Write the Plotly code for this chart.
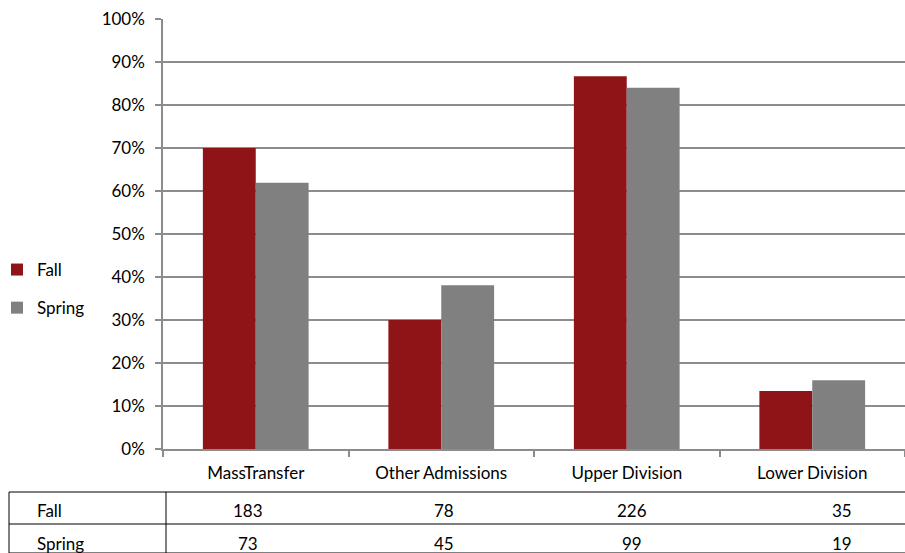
import plotly.graph_objects as go

categories = ["MassTransfer", "Other Admissions", "Upper Division", "Lower Division"]
fall_pct = [0.70, 0.30, 0.867, 0.135]
spring_pct = [0.619, 0.381, 0.84, 0.16]
fall_counts = [183, 78, 226, 35]
spring_counts = [73, 45, 99, 19]
series_names = ["Fall", "Spring"]

FALL_COLOR = "#8E1418"
SPRING_COLOR = "#808080"
GRID = "#8C8C8C"
FONT = "Lato"
FS = 17

W, H = 905, 553
L, R, T, B = 163, 0, 19, 104
PW, PH = W - L - R, H - T - B


def px_x(px):
    return (px - L) / PW


def px_y(py):
    return (H - B - py) / PH


fig = go.Figure()
fig.add_trace(go.Bar(x=categories, y=fall_pct, name=series_names[0], legendgroup="fall",
                     marker=dict(color=FALL_COLOR, line=dict(width=0))))
fig.add_trace(go.Bar(x=categories, y=spring_pct, name=series_names[1], legendgroup="spring",
                     marker=dict(color=SPRING_COLOR, line=dict(width=0))))

# data table below the chart
table_xshift = [-8, 3, 5, 30]
row_y = [511, 543]
annotations = []
for name, ry in zip(series_names, row_y):
    annotations.append(dict(x=px_x(35), y=px_y(ry), xref="paper", yref="paper",
                            text=name, showarrow=False, xanchor="left", yanchor="middle",
                            font=dict(family=FONT, size=FS, color="#000")))
for counts, ry in zip([fall_counts, spring_counts], row_y):
    for cat, c, xs in zip(categories, counts, table_xshift):
        annotations.append(dict(x=cat, y=px_y(ry), xref="x", yref="paper", xshift=xs,
                                text=str(c), showarrow=False, xanchor="center", yanchor="middle",
                                font=dict(family=FONT, size=FS, color="#000")))

shapes = []
line_style = dict(color="#000", width=1)
for py in [492, 524, 553]:
    shapes.append(dict(type="line", xref="paper", yref="paper", x0=px_x(9), x1=px_x(W),
                       y0=px_y(py), y1=px_y(py), line=line_style))
for px in [9, 166]:
    shapes.append(dict(type="line", xref="paper", yref="paper", x0=px_x(px), x1=px_x(px),
                       y0=px_y(492), y1=px_y(553), line=line_style))

fig.update_layout(
    width=W, height=H,
    margin=dict(l=L, r=R, t=T, b=B, autoexpand=False),
    paper_bgcolor="white", plot_bgcolor="white",
    barmode="group", bargap=0.43, bargroupgap=0,
    font=dict(family=FONT, size=FS, color="#000"),
    xaxis=dict(showgrid=False, showline=True, linecolor=GRID, linewidth=1.5,
               ticks="outside", tickson="boundaries", ticklen=6, tickcolor=GRID, tickwidth=1.5,
               tickfont=dict(family=FONT, size=FS, color="#000"), ticklabelstandoff=8,
               automargin=False),
    yaxis=dict(range=[0, 1], dtick=0.1, tickformat=".0%", showgrid=True, gridcolor=GRID,
               gridwidth=1.5, showline=True, linecolor=GRID, linewidth=1.5, zeroline=False,
               ticks="outside", ticklen=6, tickcolor=GRID, tickwidth=1.5,
               tickfont=dict(family=FONT, size=FS, color="#000"), ticklabelstandoff=7,
               automargin=False),
    legend=dict(xref="paper", yref="paper", x=px_x(-3), y=px_y(252),
                xanchor="left", yanchor="top", bgcolor="rgba(0,0,0,0)",
                font=dict(family=FONT, size=FS, color="#000"), itemwidth=30,
                tracegroupgap=13, traceorder="grouped"),
    annotations=annotations,
    shapes=shapes,
)

fig.write_html("out.html", config={"displayModeBar": False})

# remove the default page margin so the figure fills the window exactly
with open("out.html", "r", encoding="utf-8") as f:
    html = f.read()
html = html.replace("<head>", "<head><style>html,body{margin:0;padding:0;overflow:hidden;}</style>", 1)
with open("out.html", "w", encoding="utf-8") as f:
    f.write(html)
